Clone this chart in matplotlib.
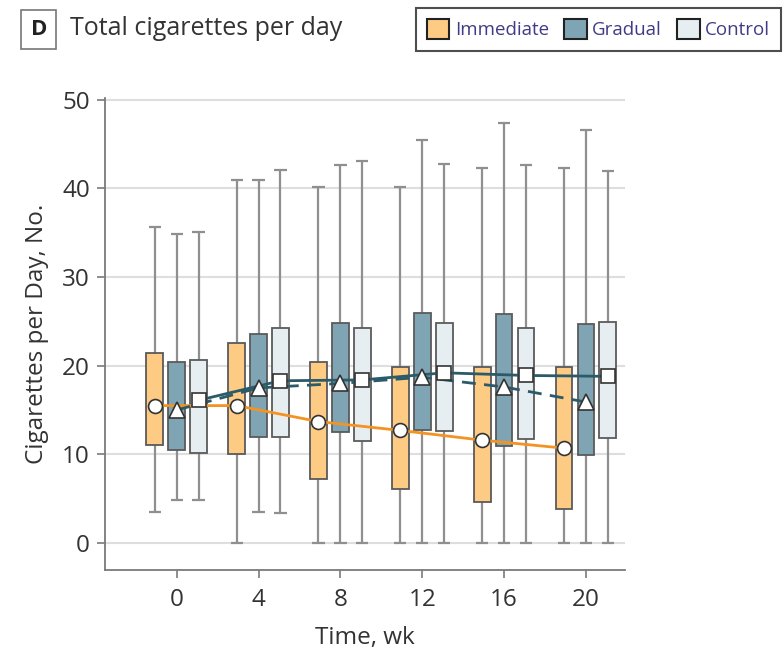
import numpy as np
import matplotlib
matplotlib.use("Agg")
import matplotlib.pyplot as plt
from matplotlib.patches import Patch

# weeks of assessment
weeks = np.array([0, 4, 8, 12, 16, 20])
groups = ["Immediate", "Gradual", "Control"]

# whisker low, Q1, Q3, whisker high, mean  (cigarettes per day)
imm_lo = [3.5, 0.0, 0.0, 0.0, 0.0, 0.0]
imm_q1 = [11.1, 10.0, 7.2, 6.1, 4.6, 3.8]
imm_q3 = [21.4, 22.6, 20.4, 19.8, 19.9, 19.9]
imm_hi = [35.6, 41.0, 40.1, 40.1, 42.3, 42.3]
imm_mean = [15.5, 15.5, 13.7, 12.7, 11.6, 10.7]

grd_lo = [4.8, 3.5, 0.0, 0.0, 0.0, 0.0]
grd_q1 = [10.5, 12.0, 12.5, 12.8, 11.0, 9.9]
grd_q3 = [20.4, 23.6, 24.8, 26.0, 25.8, 24.7]
grd_hi = [34.9, 41.0, 42.6, 45.5, 47.4, 46.6]
grd_mean = [15.0, 17.5, 18.0, 18.7, 17.6, 15.9]

ctl_lo = [4.8, 3.4, 0.0, 0.0, 0.0, 0.0]
ctl_q1 = [10.2, 12.0, 11.5, 12.6, 11.7, 11.9]
ctl_q3 = [20.6, 24.3, 24.3, 24.8, 24.3, 24.9]
ctl_hi = [35.1, 42.1, 43.1, 42.7, 42.6, 42.0]
ctl_mean = [16.1, 18.3, 18.4, 19.2, 18.9, 18.8]

fills = ["#fecb85", "#7fa5b5", "#e7eef2"]
line_col = ["#f39322", "#2b5a69", "#2b5a69"]
markers = ["o", "^", "s"]
offsets = [-1.07, 0.0, 1.07]
box_w = 0.82

plt.rcParams["font.family"] = ["Open Sans", "DejaVu Sans"]

fig = plt.figure(figsize=(7.84, 6.53), dpi=100)
ax = fig.add_axes([0.134, 0.127, 0.663, 0.723])

data = [
    (imm_lo, imm_q1, imm_q3, imm_hi, imm_mean),
    (grd_lo, grd_q1, grd_q3, grd_hi, grd_mean),
    (ctl_lo, ctl_q1, ctl_q3, ctl_hi, ctl_mean),
]

for i, (lo, q1, q3, hi, mean) in enumerate(data):
    x = weeks + offsets[i]
    lo, q1, q3, hi = map(np.array, (lo, q1, q3, hi))
    ax.vlines(x, lo, hi, color="#8f8f8f", lw=1.6, zorder=2)
    ax.hlines(lo, x - 0.3, x + 0.3, color="#8f8f8f", lw=1.6, zorder=2)
    ax.hlines(hi, x - 0.3, x + 0.3, color="#8f8f8f", lw=1.6, zorder=2)
    ax.bar(x, q3 - q1, bottom=q1, width=box_w, color=fills[i],
           edgecolor="#5a5a5a", lw=1.3, zorder=3)

# mean trajectories
for i, (lo, q1, q3, hi, mean) in enumerate(data):
    x = weeks + offsets[i]
    ls = (0, (5, 3)) if i == 1 else "-"
    ax.plot(x, mean, color=line_col[i], lw=2, ls=ls, zorder=4)
    ax.plot(x, mean, ls="none", marker=markers[i], ms=10 if i != 1 else 11,
            mfc="white", mec="#333333", mew=1.2, zorder=5)

ax.set_xlim(-3.5, 21.9)
ax.set_ylim(-3.05, 50.2)
ax.set_xticks(weeks)
ax.set_yticks(np.arange(0, 51, 10))
ax.yaxis.grid(True, color="#dedede", lw=1.5)
ax.set_axisbelow(True)
for s in ["top", "right"]:
    ax.spines[s].set_visible(False)
for s in ["left", "bottom"]:
    ax.spines[s].set_color("#7a7a7a")
    ax.spines[s].set_linewidth(1.3)
ax.tick_params(axis="both", colors="#7a7a7a", length=6, width=1.2,
               labelsize=17.5, labelcolor="#333333")
ax.tick_params(axis="x", pad=7)
ax.tick_params(axis="y", pad=5)
ax.set_xlabel("Time, wk", fontsize=17.5, color="#333333", labelpad=10)
ax.set_ylabel("Cigarettes per Day, No.", fontsize=17.5, color="#333333", labelpad=9)

# panel letter and title
fig.text(0.0497, 0.955, "D", fontsize=16, fontweight="bold", color="#222222",
         ha="center", va="center",
         bbox=dict(boxstyle="square,pad=0.42", fc="white", ec="#777777", lw=1.2))
fig.text(0.089, 0.957, "Total cigarettes per day", fontsize=18,
         color="#333333", va="center")

handles = [Patch(facecolor=fills[i], edgecolor="#222222", lw=1.5) for i in range(3)]
leg = fig.legend(handles, groups, loc="center", bbox_to_anchor=(0.7635, 0.955),
                 ncol=3, frameon=True, fancybox=False, handlelength=1.2,
                 handleheight=1.2, handletextpad=0.3, columnspacing=0.8,
                 borderpad=0.6, prop={"size": 13.5})
leg.get_frame().set_edgecolor("#222222")
leg.get_frame().set_linewidth(1.5)
for t in leg.get_texts():
    t.set_color("#3f3c86")

fig.savefig("out.png", dpi=100)
